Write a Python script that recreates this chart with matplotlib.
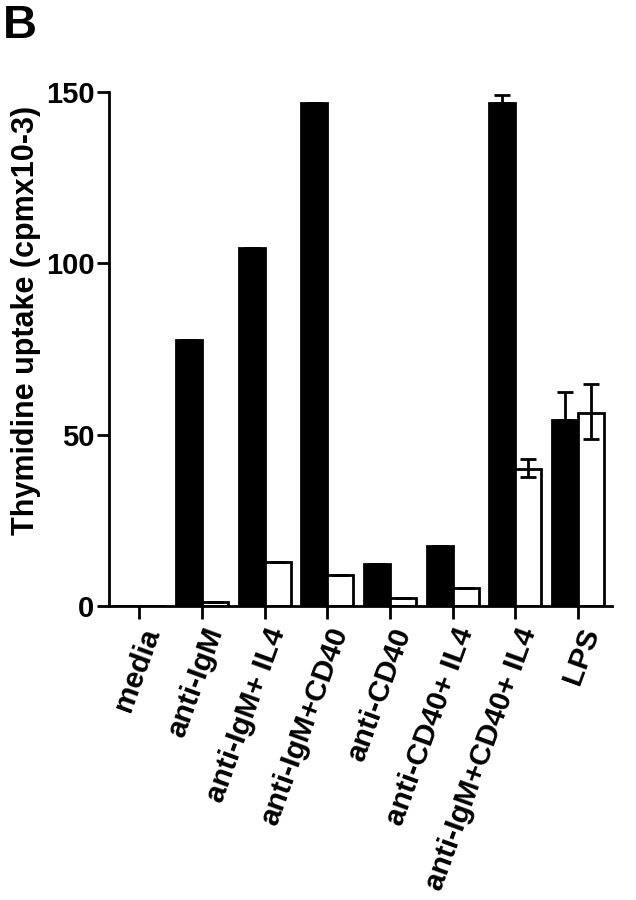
import numpy as np
import matplotlib.pyplot as plt

plt.rcParams['font.family'] = ['Liberation Sans', 'DejaVu Sans']
plt.rcParams['font.weight'] = 'bold'

# conditions and values (cpm x 10^-3)
categories = ['media', 'anti-IgM', 'anti-IgM+ IL4', 'anti-IgM+CD40', 'anti-CD40',
              'anti-CD40+ IL4', 'anti-IgM+CD40+ IL4', 'LPS']
black_vals = [0, 77.6, 104.5, 146.7, 12.3, 17.6, 146.7, 54.3]
white_vals = [0, 1.0, 12.9, 9.1, 2.4, 5.3, 40.0, 56.4]

# error bars (lower, upper)
black_err_lo = [0, 0, 0, 0, 0, 0, 0, 0]
black_err_hi = [0, 0, 0, 0, 0, 0, 2.3, 8.0]
white_err_lo = [0, 0, 0, 0, 0, 0, 2.5, 7.7]
white_err_hi = [0, 0, 0, 0, 0, 0, 2.9, 8.3]

x = np.arange(len(categories))
w = 0.415

fig = plt.figure(figsize=(6.36, 9), dpi=100)
ax = fig.add_axes([0.1706, 0.3268, 0.7912, 0.571])

ax.bar(x - w / 2, black_vals, w, color='black', edgecolor='black', linewidth=2)
ax.bar(x + w / 2, white_vals, w, color='white', edgecolor='black', linewidth=2)

ax.errorbar(x - w / 2, black_vals, yerr=[black_err_lo, black_err_hi], fmt='none',
            ecolor='black', elinewidth=2, capsize=6, capthick=2)
ax.errorbar(x + w / 2, white_vals, yerr=[white_err_lo, white_err_hi], fmt='none',
            ecolor='black', elinewidth=2, capsize=6, capthick=2)

ax.set_xlim(-0.49, 7.54)
ax.set_ylim(0, 150)
ax.set_yticks([0, 50, 100, 150])
ax.set_xticks(x)
ax.set_xticklabels(categories, rotation=70, ha='right', rotation_mode='anchor',
                   fontsize=21.5, fontweight='bold')
ax.tick_params(axis='y', labelsize=21, length=9, width=2, pad=1)
ax.tick_params(axis='x', length=9, width=2, pad=4)
for t in ax.get_yticklabels():
    t.set_fontweight('bold')

for s in ['top', 'right']:
    ax.spines[s].set_visible(False)
for s in ['left', 'bottom']:
    ax.spines[s].set_linewidth(2)

ax.set_ylabel('Thymidine uptake (cpmx10-3)', fontsize=22, fontweight='bold')
ax.yaxis.set_label_coords(-0.135, 0.556)

fig.text(0.005, 0.996, 'B', fontsize=34, fontweight='bold', ha='left', va='top')

fig.savefig('out.png', dpi=100)
